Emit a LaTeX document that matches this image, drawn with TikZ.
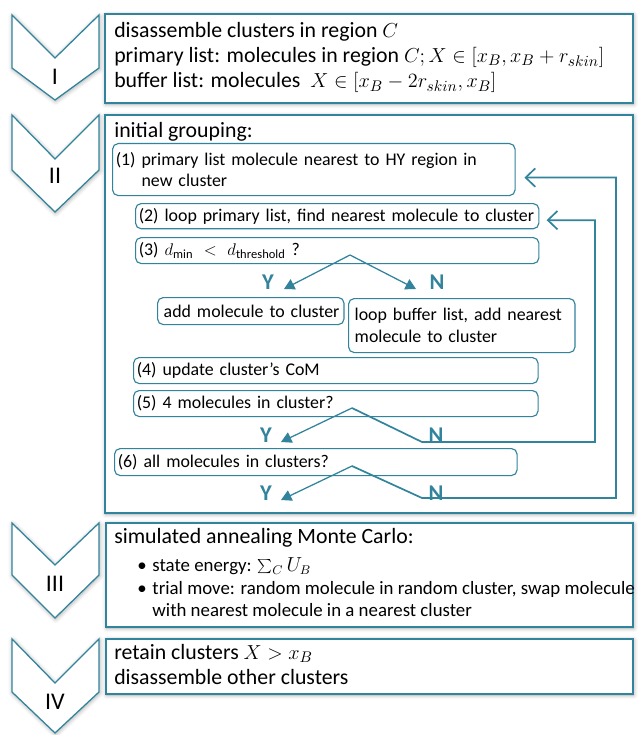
\documentclass[tikz,border=0pt]{standalone}
\usepackage{fontspec}
\setmainfont{Carlito}
\usetikzlibrary{arrows.meta,positioning,fit,calc,shadows.blur}
\definecolor{stepteal}{HTML}{31849B}
\tikzset{
  stagebox/.style={draw=stepteal,line width=0.9pt,fill=white,inner sep=0pt,blur shadow={shadow xshift=0.5pt,shadow yshift=-0.8pt,shadow blur radius=3pt,shadow opacity=35}},
  chevron/.style={draw=stepteal,line width=0.9pt,fill=white,line join=miter,blur shadow={shadow xshift=0.5pt,shadow yshift=-0.8pt,shadow blur radius=3pt,shadow opacity=35}},
  stagelabel/.style={inner sep=0pt,font=\fontsize{17}{17}\selectfont},
  stagetext/.style={anchor=north west,inner sep=0pt,align=left,font=\fontsize{15.5}{17.8}\selectfont},
  bullettext/.style={anchor=north west,inner sep=0pt,align=left,font=\fontsize{13.4}{16}\selectfont},
  stepbox/.style={draw=stepteal,line width=0.8pt,rounded corners=4pt,fill=white,anchor=north west,align=left,inner xsep=0.08cm,inner ysep=0pt,font=\fontsize{12.7}{15.5}\selectfont},
  yesno/.style={text=stepteal,inner sep=0pt,font=\fontsize{16}{16}\selectfont\bfseries},
  branch/.style={draw=stepteal,line width=0.9pt,-{Triangle[length=2.6mm,width=2.8mm]}},
  loopback/.style={draw=stepteal,line width=1.2pt,line join=miter,-{Straight Barb[length=2.4mm,width=4.6mm]}}
}
\begin{document}
\begin{tikzpicture}[x=0.025cm,y=-0.025cm]
  \useasboundingbox (0,0) rectangle (637,735);
  % stage chevrons
  \draw[chevron] (12,15) -- (55,58) -- (99,15) -- (99,68) -- (55,100) -- (12,68) -- cycle;
  \draw[chevron] (12,115) -- (55,159) -- (99,115) -- (99,170) -- (55,212) -- (12,170) -- cycle;
  \draw[chevron] (12,523) -- (55,565) -- (99,523) -- (99,575) -- (55,618) -- (12,575) -- cycle;
  \draw[chevron] (12,639) -- (55,683) -- (99,639) -- (99,692) -- (55,733) -- (12,692) -- cycle;
  \node[stagelabel] (labI) at (55,77) {I};
  \node[stagelabel] (labII) at (55,176) {II};
  \node[stagelabel] (labIII) at (55,584) {III};
  \node[stagelabel] (labIV) at (55,702) {IV};
  % stage boxes
  \node[stagebox,fit={(105,14) (633,103)}] (stageI) {};
  \node[stagebox,fit={(105,115) (633,513)}] (stageII) {};
  \node[stagebox,fit={(106,523) (633,627)}] (stageIII) {};
  \node[stagebox,fit={(106,639) (633,694)}] (stageIV) {};
  % stage I
  \node[stagetext] (disasmtext) at (114,22) {disassemble clusters in region $C$\\
    primary list: molecules in region $C; X\in[x_B,x_B+r_{skin}]$\\
    buffer list: molecules\ \ $X\in[x_B-2r_{skin},x_B]$};
  % stage II
  \node[stagetext] (grouptext) at (114,122) {initial grouping:};
  \node[stepbox,text width=9.9cm,minimum height=1.3cm] (step1) at (112,143) {(1) primary list molecule nearest to HY region in\\\hphantom{(1) }new cluster};
  \node[stepbox,text width=9.92cm,minimum height=0.63cm] (step2) at (135,203) {(2) loop primary list, find nearest molecule to cluster};
  \node[stepbox,text width=9.92cm,minimum height=0.65cm] (step3) at (135,237) {(3) $d_{\mathrm{min}}\ <\ d_{\mathrm{threshold}}$ ?};
  \node[stepbox,text width=4.5cm,minimum height=0.675cm] (addmol) at (157,297) {\,add molecule to cluster};
  \node[stepbox,text width=5.5cm,minimum height=1.35cm] (loopbuf) at (348,298) {\,loop buffer list, add nearest\\\,molecule to cluster};
  \node[stepbox,text width=9.95cm,minimum height=0.65cm] (step4) at (133,357) {(4) update cluster’s CoM};
  \node[stepbox,text width=9.95cm,minimum height=0.65cm] (step5) at (133,390) {(5) 4 molecules in cluster?};
  \node[stepbox,text width=9.9cm,minimum height=0.675cm] (step6) at (114,448) {(6) all molecules in clusters?};
  % decisions
  \coordinate (fork3) at (350,255);
  \coordinate (fork5) at (352,408);
  \coordinate (fork6) at (352,466);
  \node[yesno] (yes3) at (268,282) {Y};
  \node[yesno] (no3) at (437,282) {N};
  \node[yesno] (yes5) at (266,435) {Y};
  \node[yesno] (no5) at (436,435) {N};
  \node[yesno] (yes6) at (266,493) {Y};
  \node[yesno] (no6) at (436,493) {N};
  \coordinate (yes3tip) at (284,289);
  \coordinate (no3tip) at (416,289);
  \coordinate (yes5tip) at (281,442);
  \coordinate (yes6tip) at (281,500);
  \draw[branch] (fork3) -- (yes3tip);
  \draw[branch] (fork3) -- (no3tip);
  \draw[branch] (fork5) -- (yes5tip);
  \draw[branch] (fork6) -- (yes6tip);
  % loops back
  \draw[loopback] (fork5) -- (422,442) -- (595,442) |- ([xshift=0.18cm,yshift=-0.1cm]step2.east);
  \draw[loopback] (fork6) -- (422,498) -- (616,498) |- ([xshift=0.22cm,yshift=-0.2cm]step1.east);
  % stage III
  \node[bullettext] (annealtext) at (114,528) {{\fontsize{15.5}{17.8}\selectfont simulated annealing Monte Carlo:}\\[4pt]
    \hspace*{0.575cm}\makebox[0.38cm][l]{\textbullet}state energy: $\sum_C U_B$\\
    \hspace*{0.575cm}\makebox[0.38cm][l]{\textbullet}trial move: random molecule in random cluster, swap molecule\\
    \hspace*{0.575cm}\hphantom{\makebox[0.38cm][l]{\textbullet}}with nearest molecule in a nearest cluster};
  % stage IV
  \node[stagetext] (retaintext) at (114,644) {retain clusters $X>x_B$\\disassemble other clusters};
\end{tikzpicture}
\end{document}
